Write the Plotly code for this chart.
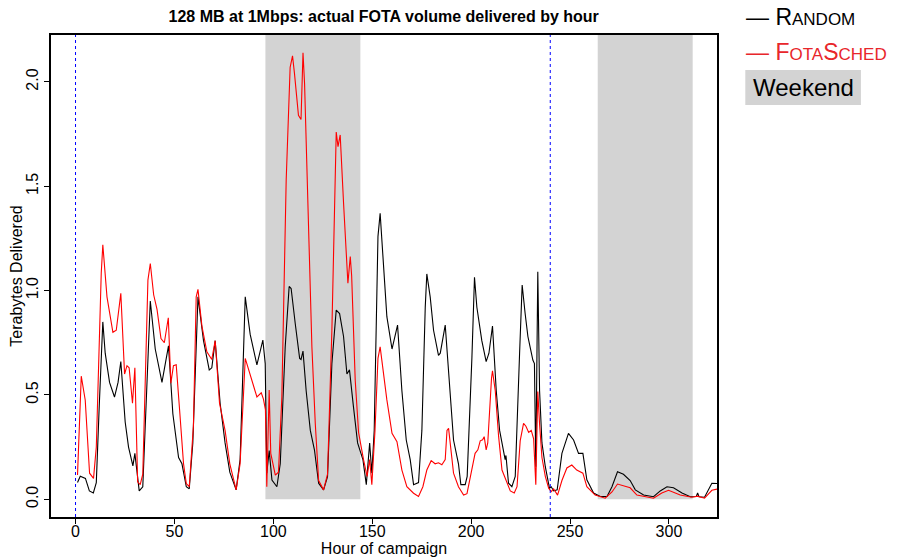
import plotly.graph_objects as go

# ---- data (hour of campaign, terabytes delivered) ----
random_hours = [1, 2.4, 5, 7, 9, 10.5, 12, 13.8, 15, 17.2, 19.7, 21.5, 22.9, 25.1, 26.8, 29, 30, 32.2, 34, 36,
                37.8, 40.3, 43.7, 47, 49.2, 52.1, 53.8, 56, 57.5, 59.3, 61.9, 64.7, 67.6, 68.9, 70.6, 73.1, 75.6, 78,
                81.2, 83.2, 85.8, 88.3, 91.7, 94.7, 95.9, 96.7, 97.9, 99.3, 101.8, 103.5, 106, 108, 109, 111.1,
                113.3, 114, 115, 116.6, 118.7, 120.8, 122.9, 125.4, 127.4, 129.6, 131.8, 133.5, 135.5, 137.2,
                138.5, 140.5, 142.6, 145.3, 147, 148.7, 149.8, 151, 152.9, 154, 155.7, 157.4, 160, 162.8, 165,
                167.2, 169.2, 170.9, 173.4, 175.1, 176.8, 177.6, 179.3, 181, 183.5, 184.4, 186.9, 189.4, 191.1,
                193.6, 194.8, 197, 198, 200.4, 201.7, 202.9, 205.4, 207.6, 209, 210.8, 212.7, 214.4, 216.4, 217.2,
                217.6, 218.9, 220.6, 222.3, 224.5, 225.8, 227.3, 228.7, 229.8, 231.2, 232, 232.7, 233.7, 234.6,
                235.8, 237.5, 239.6, 240.5, 241.7, 243.5, 245.9, 247.6, 249.2, 251.8, 254.3, 256.5, 258.5, 261.9,
                265.3, 268.7, 271.2, 274, 277, 280.4, 283, 287.2, 292.2, 295.6, 299, 302.3, 306.6, 310.8, 313.8,
                314.5, 315.2, 318, 320, 321.7, 325]
random_tb = [0.08, 0.11, 0.10, 0.04, 0.03, 0.08, 0.45, 0.85, 0.70, 0.56, 0.49, 0.56, 0.66, 0.37, 0.25, 0.16, 0.22,
             0.04, 0.06, 0.50, 0.95, 0.72, 0.56, 0.735, 0.41, 0.20, 0.17, 0.06, 0.05, 0.27, 0.97, 0.76, 0.62, 0.63,
             0.76, 0.46, 0.27, 0.13, 0.045, 0.19, 0.97, 0.79, 0.644, 0.763, 0.65, 0.125, 0.233, 0.092, 0.06, 0.17,
             0.73, 1.02, 1.01, 0.84, 0.675, 0.67, 0.71, 0.52, 0.33, 0.236, 0.077, 0.045, 0.108, 0.65, 0.907, 0.89,
             0.78, 0.60, 0.62, 0.444, 0.27, 0.19, 0.07, 0.27, 0.125, 0.33, 1.26, 1.37, 1.13, 0.875, 0.72, 0.835,
             0.52, 0.284, 0.19, 0.07, 0.08, 0.33, 0.92, 1.08, 0.97, 0.81, 0.69, 0.70, 0.835, 0.52, 0.284, 0.17,
             0.07, 0.07, 0.11, 0.68, 1.064, 0.92, 0.76, 0.66, 0.70, 0.83, 0.52, 0.33, 0.22, 0.19, 0.21, 0.077,
             0.06, 0.11, 0.70, 1.027, 0.89, 0.78, 0.73, 0.667, 0.65, 0.156, 1.09, 0.52, 0.27, 0.156, 0.053, 0.06,
             0.04, 0.045, 0.22, 0.276, 0.316, 0.284, 0.22, 0.22, 0.093, 0.03, 0.013, 0.013, 0.06, 0.132, 0.12,
             0.09, 0.045, 0.02, 0.012, 0.04, 0.06, 0.055, 0.03, 0.012, 0.013, 0.03, 0.012, 0.01, 0.05, 0.077,
             0.075]

fotasched_hours = [1, 2.9, 4.9, 7.1, 9.1, 10.5, 13, 13.8, 15.9, 18.9, 20.6, 22.9, 24.8, 26, 27.1, 28.8, 30, 31.4,
                   32.7, 34, 36.6, 37.8, 39.5, 41.2, 43.2, 44.9, 46.9, 48.2, 49.5, 50.9, 52.6, 54.6, 56, 57.5,
                   59.6, 61, 61.9, 63.9, 66.4, 68.9, 70.6, 72.8, 75.6, 78, 81.2, 83.2, 85.8, 88.3, 91.7, 93.9, 95,
                   96, 96.7, 97.9, 98.7, 101, 102.6, 104.3, 106.5, 108.5, 109.7, 110.7, 112.7, 114, 115, 115.8,
                   117.8, 119.5, 121.2, 122.9, 125.4, 127.4, 129.6, 131.8, 132.7, 133.8, 135.5, 136.9, 137.7,
                   138.9, 139.6, 141.4, 143.1, 145.6, 147.4, 148.7, 149.8, 151.4, 152.9, 154, 155.7, 157.4, 160,
                   162.5, 165, 167.5, 170.9, 173.4, 175.6, 177.6, 179.8, 181.8, 183.5, 185.2, 186.9, 187.8, 188.6,
                   191.1, 193.6, 196.2, 197.9, 200.4, 202, 203.4, 204.6, 205.8, 206.6, 207.6, 208.4, 210.3, 210.8,
                   212.2, 213.9, 215.6, 218.1, 219.8, 221.8, 223.2, 224.8, 226.5, 227.7, 229.1, 230.4, 231.6,
                   232.7, 233.7, 234.6, 235.8, 237.5, 239.2, 240.5, 241.7, 243.7, 245.9, 248.4, 250.9, 253.4,
                   256.5, 258.5, 262.7, 267.8, 271.2, 274, 277, 280.4, 283.8, 292.2, 296.4, 299.8, 305.7, 311.6,
                   314.5, 318, 321.7, 325]
fotasched_tb = [0.116, 0.59, 0.476, 0.125, 0.10, 0.25, 1.083, 1.22, 0.97, 0.80, 0.81, 0.987, 0.60, 0.64, 0.63,
                0.46, 0.63, 0.084, 0.07, 0.12, 1.05, 1.13, 0.98, 0.91, 0.77, 0.75, 0.87, 0.556, 0.64, 0.645, 0.43,
                0.17, 0.075, 0.06, 0.35, 0.97, 1.006, 0.83, 0.707, 0.67, 0.76, 0.46, 0.33, 0.17, 0.045, 0.17,
                0.675, 0.60, 0.49, 0.51, 0.48, 0.43, 0.06, 0.524, 0.22, 0.116, 0.13, 0.49, 1.53, 2.07, 2.125,
                2.04, 1.84, 1.82, 2.14, 1.99, 1.29, 0.73, 0.364, 0.09, 0.045, 0.12, 0.81, 1.76, 1.69, 1.746, 1.42,
                1.13, 1.035, 1.163, 1.07, 0.57, 0.32, 0.19, 0.11, 0.19, 0.07, 0.33, 0.675, 0.73, 0.60, 0.476,
                0.316, 0.276, 0.14, 0.06, 0.029, 0.013, 0.06, 0.14, 0.185, 0.17, 0.175, 0.165, 0.19, 0.33, 0.34,
                0.125, 0.06, 0.02, 0.027, 0.14, 0.22, 0.237, 0.28, 0.285, 0.30, 0.237, 0.27, 0.58, 0.615, 0.52,
                0.30, 0.14, 0.077, 0.04, 0.03, 0.06, 0.28, 0.364, 0.35, 0.32, 0.33, 0.29, 0.07, 0.516, 0.36, 0.20,
                0.11, 0.053, 0.037, 0.05, 0.02, 0.09, 0.15, 0.164, 0.14, 0.125, 0.06, 0.02, 0.005, 0.035, 0.073,
                0.065, 0.055, 0.02, 0.005, 0.03, 0.043, 0.02, 0.01, 0.015, 0.005, 0.043, 0.05]

weekend_starts = [96, 264]
weekend_ends = [144, 312]
marker_hours = [0, 240]

x_ticks = [0, 50, 100, 150, 200, 250, 300]
y_ticks = [0.0, 0.5, 1.0, 1.5, 2.0]
y_tick_text = ["0.0", "0.5", "1.0", "1.5", "2.0"]

X_RANGE = [-12.4, 324.3]
Y_RANGE = [-0.085, 2.225]

FONT = "Liberation Sans, Arial, Helvetica, sans-serif"

# the page body has an 8px margin, so the figure is drawn 8px smaller and offset
W, H = 900, 550

fig = go.Figure()

fig.add_trace(go.Scatter(x=random_hours, y=random_tb, mode="lines", name="Random",
                         line=dict(color="black", width=1.1), showlegend=False))
fig.add_trace(go.Scatter(x=fotasched_hours, y=fotasched_tb, mode="lines", name="FotaSched",
                         line=dict(color="#FF0000", width=1.1), showlegend=False))

for s, e in zip(weekend_starts, weekend_ends):
    fig.add_shape(type="rect", xref="x", yref="y", x0=s, x1=e, y0=0, y1=Y_RANGE[1],
                  fillcolor="#D3D3D3", line=dict(width=0), layer="below")

for h in marker_hours:
    fig.add_shape(type="line", xref="x", yref="paper", x0=h, x1=h, y0=0, y1=1,
                  line=dict(color="blue", width=1, dash="dot"), layer="above")

# legend drawn outside the plot area (small-caps labels)
fig.add_annotation(xref="paper", yref="paper", x=1.041, y=1.037, xanchor="left", yanchor="middle",
                   showarrow=False, font=dict(family=FONT, size=23, color="black"),
                   text="— R<span style='font-size:17px'>ANDOM</span>")
fig.add_annotation(xref="paper", yref="paper", x=1.041, y=0.9645, xanchor="left", yanchor="middle",
                   showarrow=False, font=dict(family=FONT, size=23, color="#E8262B"),
                   text="— F<span style='font-size:17px'>OTA</span>S<span style='font-size:17px'>CHED</span>")
fig.add_shape(type="rect", xref="paper", yref="paper", x0=1.0425, x1=1.2161, y0=0.8546, y1=0.9273,
              fillcolor="#D3D3D3", line=dict(width=0))
fig.add_annotation(xref="paper", yref="paper", x=1.1293, y=0.891, xanchor="center", yanchor="middle",
                   showarrow=False, font=dict(family=FONT, size=24, color="black"), text="Weekend")

fig.update_layout(
    width=W, height=H,
    margin=dict(l=43, r=191, t=27, b=41, pad=0),
    paper_bgcolor="white", plot_bgcolor="white",
    font=dict(family=FONT, size=16, color="black"),
    title=dict(text="<b>128 MB at 1Mbps: actual FOTA volume delivered by hour</b>",
               x=(375.7 / W), xanchor="center", y=1 - 8.5 / H, yanchor="middle",
               font=dict(family=FONT, size=16, color="black")),
)
fig.update_xaxes(range=X_RANGE, tickvals=x_ticks, ticks="outside", ticklen=5, tickwidth=1, tickcolor="black",
                 showline=True, linecolor="black", linewidth=1.5, mirror=True, showgrid=False, zeroline=False,
                 tickfont=dict(family=FONT, size=16), automargin=False, ticklabelstandoff=-6,
                 title=dict(text="Hour of campaign", font=dict(family=FONT, size=16), standoff=2))
fig.update_yaxes(range=Y_RANGE, tickvals=y_ticks, ticktext=y_tick_text, tickangle=-90, ticks="outside",
                 ticklen=5, tickwidth=1, tickcolor="black",
                 showline=True, linecolor="black", linewidth=1.5, mirror=True, showgrid=False, zeroline=False,
                 tickfont=dict(family=FONT, size=16), automargin=False,
                 title=dict(text="Terabytes Delivered", font=dict(family=FONT, size=16), standoff=0))

fig.write_html("out.html")
